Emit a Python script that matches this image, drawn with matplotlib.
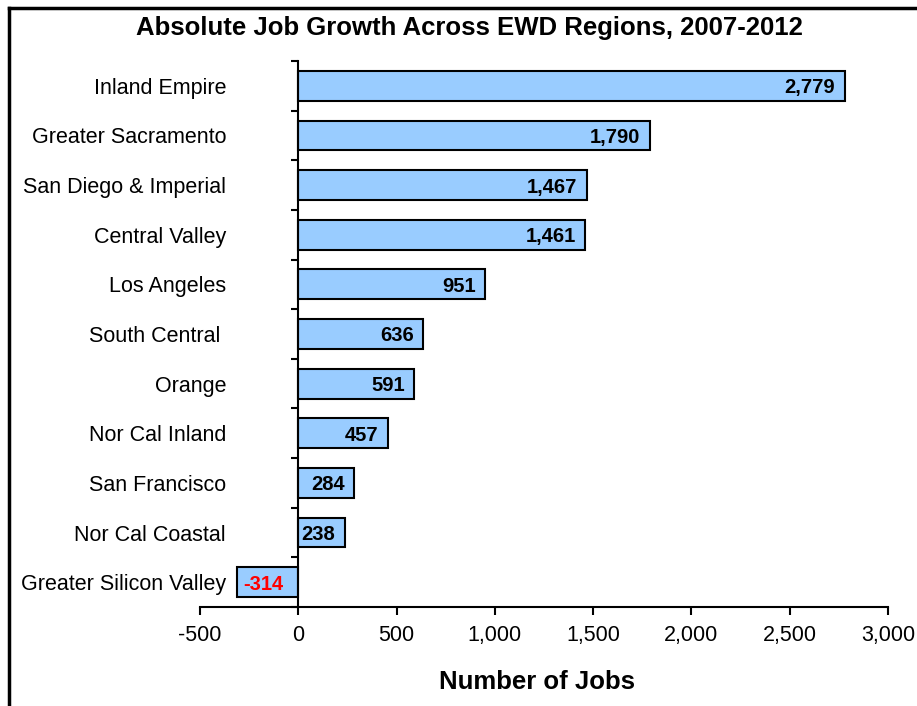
import matplotlib
matplotlib.use("Agg")
import matplotlib.pyplot as plt
from matplotlib.lines import Line2D
import numpy as np

plt.rcParams['font.family'] = ['Liberation Sans', 'DejaVu Sans']

regions = ["Inland Empire", "Greater Sacramento", "San Diego & Imperial",
           "Central Valley", "Los Angeles", "South Central ", "Orange",
           "Nor Cal Inland", "San Francisco", "Nor Cal Coastal",
           "Greater Silicon Valley"]
jobs = [2779, 1790, 1467, 1461, 951, 636, 591, 457, 284, 238, -314]
xticks = [-500, 0, 500, 1000, 1500, 2000, 2500, 3000]
xtick_labels = ["-500", "0", "500", "1,000", "1,500", "2,000", "2,500", "3,000"]

fig = plt.figure(figsize=(9.17, 7.06), dpi=100)
ax = fig.add_axes([200/917, 99/706, 688/917, 546/706])

y = np.arange(len(regions))
ax.barh(y, jobs, height=0.6, color="#99CCFF", edgecolor="black", linewidth=1.5, zorder=2)
ax.set_ylim(len(regions) - 0.5, -0.5)
ax.set_xlim(-500, 3000)

for yi, v in zip(y, jobs):
    lab = f"{v:,}"
    if v >= 0:
        ax.annotate(lab, (v, yi), xytext=(-7, 0), textcoords="offset points",
                    ha="right", va="center_baseline", fontsize=14.5, fontweight="bold",
                    color="black", zorder=3)
    else:
        ax.annotate(lab, (v, yi), xytext=(5, 0), textcoords="offset points",
                    ha="left", va="center_baseline", fontsize=14.5, fontweight="bold",
                    color="red", zorder=3)

for s in ["top", "right"]:
    ax.spines[s].set_visible(False)
ax.spines["left"].set_position(("data", 0))
ax.spines["left"].set_linewidth(1.5)
ax.spines["bottom"].set_linewidth(1.5)

ax.set_yticks(y)
ax.set_yticklabels(regions, fontsize=15.5)
ax.set_yticks(np.arange(len(regions) + 1) - 0.5, minor=True)
ax.tick_params(axis="y", which="major", length=0, pad=52)
ax.tick_params(axis="y", which="minor", length=5, width=1.5, direction="out")

ax.set_xticks(xticks)
ax.set_xticklabels(xtick_labels, fontsize=15.5)
ax.tick_params(axis="x", which="major", length=6, width=1.5, direction="out", pad=7)

ax.set_xlabel("Number of Jobs", fontsize=18.5, fontweight="bold")
ax.xaxis.set_label_coords(0.49, -0.115)
fig.text(0.512, 0.960, "Absolute Job Growth Across EWD Regions, 2007-2012",
         ha="center", va="center", fontsize=18.5, fontweight="bold")

# outer frame (left and top visible)
fig.add_artist(Line2D([9/917, 9/917], [0, 1 - 8/706], color="black", linewidth=2.5, transform=fig.transFigure))
fig.add_artist(Line2D([9/917, 1], [1 - 8/706, 1 - 8/706], color="black", linewidth=2.5, transform=fig.transFigure))

fig.savefig("out.png", dpi=100)
